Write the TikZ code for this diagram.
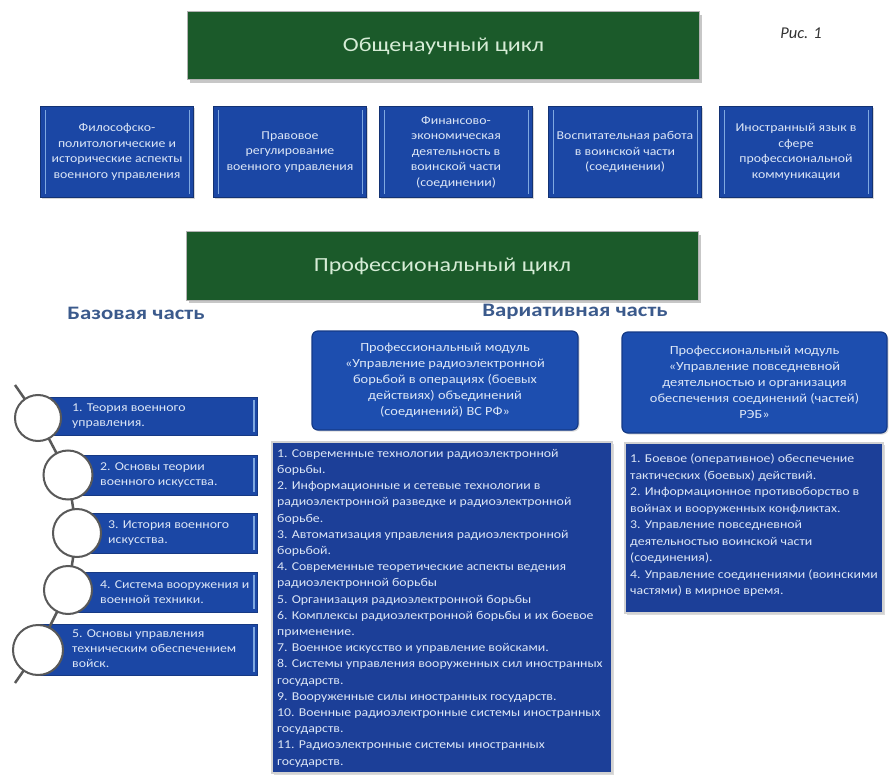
\documentclass[tikz,border=0pt]{standalone}
\usepackage{fontspec}
\setmainfont{Carlito}
\newfontfamily\wfont[FakeStretch=1.15]{Carlito}
\newfontfamily\hfont[FakeStretch=1.2]{Carlito}
\usetikzlibrary{shadows,calc}
\definecolor{gfill}{HTML}{1B5A2A}
\definecolor{gtext}{HTML}{D6ECD6}
\definecolor{bfill}{HTML}{1B47A5}
\definecolor{mfill}{HTML}{1D4EAF}
\definecolor{mline}{HTML}{143A86}
\definecolor{lfill}{HTML}{1C3F98}
\definecolor{btext}{HTML}{DCE6F6}
\definecolor{headc}{HTML}{3B5A8C}
\definecolor{stripe}{HTML}{7FA8E0}
\tikzset{
  greenbox/.style={draw=gray!60, line width=1pt, fill=gfill, text=gtext, minimum width=512pt, minimum height=68pt,
    drop shadow={shadow xshift=2pt, shadow yshift=-3pt, fill=gray!55, opacity=.8}, font=\hfont\fontsize{20}{24}\selectfont},
  topbox/.style={fill=bfill, draw=bfill!70!black, minimum width=153pt, minimum height=91pt, text=btext, align=center,
    drop shadow={shadow xshift=1.5pt, shadow yshift=-1.5pt, fill=gray!45, opacity=.7}, font=\wfont\fontsize{12}{15.5}\selectfont, inner sep=2pt},
  modbox/.style={fill=mfill, draw=mline, line width=1.2pt, rounded corners=6pt, text=btext, align=center,
    drop shadow={shadow xshift=1.5pt, shadow yshift=-1.5pt, fill=gray!40, opacity=.7}, font=\wfont\fontsize{12.5}{16}\selectfont},
  listbox/.style={fill=lfill, draw=gray!35, line width=1.5pt, text=btext, align=left, anchor=north west, inner sep=0pt,
    drop shadow={shadow xshift=1.5pt, shadow yshift=-1.5pt, fill=gray!40, opacity=.7}},
  listtext/.style={text=btext, align=left, anchor=north west, inner sep=0pt, font=\wfont\fontsize{12}{16.2}\selectfont},
  barbox/.style={fill=bfill, draw=bfill!80!black},
  bartext/.style={text=btext, align=left, anchor=west, inner sep=0pt, font=\wfont\fontsize{12}{15}\selectfont},
  ring/.style={circle, draw=gray!70!black, line width=2pt, fill=white, minimum size=#1},
  heading/.style={text=headc, font=\hfont\bfseries\fontsize{19}{22}\selectfont},
  chain/.style={draw=gray!70!black, line width=2.5pt}
}
\begin{document}
\begin{tikzpicture}[x=1pt,y=-1pt]
\useasboundingbox[fill=white] (0,0) rectangle (894,778);

% top green box
\node[greenbox] (gen) at (443.5,46) {Общенаучный цикл};
\node[text=gray!40!black, font=\fontsize{16.5}{19}\selectfont\itshape] (fig) at (801,33) {Рис. 1};

% top row
\node[topbox] (t1) at (117,152) {Философско-\\политологические и\\исторические аспекты\\военного управления};
\node[topbox] (t2) at (290,152) {Правовое\\регулирование\\военного управления};
\node[topbox] (t3) at (456,152) {Финансово-\\экономическая\\деятельность в\\воинской части\\(соединении)};
\node[topbox] (t4) at (625,152) {Воспитательная работа\\в воинской части\\(соединении)};
\node[topbox] (t5) at (796,152) {Иностранный язык в\\сфере\\профессиональной\\коммуникации};
\foreach \b in {t1,t2,t3,t4,t5}{
  \draw[stripe, line width=1.5pt] ($(\b.north west)+(5,4)$) -- ($(\b.south west)+(5,-4)$);
  \draw[stripe, line width=1.5pt] ($(\b.north east)+(-4,4)$) -- ($(\b.south east)+(-4,-4)$);
}

% second green box
\node[greenbox] (prof) at (442.5,266) {Профессиональный цикл};

% headings
\node[heading] (base) at (136,313) {Базовая часть};
\node[heading] (var) at (575,312) {Вариативная часть};

% modules
\node[modbox, minimum width=266pt, minimum height=99pt] (m1) at (445,380.5) {Профессиональный модуль\\«Управление радиоэлектронной\\борьбой в операциях (боевых\\действиях) объединений\\(соединений) ВС РФ»};
\node[modbox, minimum width=265pt, minimum height=101pt] (m2) at (754.5,382.5) {Профессиональный модуль\\«Управление повседневной\\деятельностью и организация\\обеспечения соединений (частей)\\РЭБ»};

% list boxes
\path[listbox] (272,442) rectangle (612,773);
\node[listtext] (l1) at (277,449) {1. Современные технологии радиоэлектронной\\борьбы.\\2. Информационные и сетевые технологии в\\радиоэлектронной разведке и радиоэлектронной\\борьбе.\\3. Автоматизация управления радиоэлектронной\\борьбой.\\4. Современные теоретические аспекты ведения\\радиоэлектронной борьбы\\5. Организация радиоэлектронной борьбы\\6. Комплексы радиоэлектронной борьбы и их боевое\\применение.\\7. Военное искусство и управление войсками.\\8. Системы управления вооруженных сил иностранных\\государств.\\9. Вооруженные силы иностранных государств.\\10. Военные радиоэлектронные системы иностранных\\государств.\\11. Радиоэлектронные системы иностранных\\государств.};
\path[listbox] (625,443) rectangle (883,613);
\node[listtext, font=\wfont\fontsize{12}{16.5}\selectfont] (l2) at (630,454) {1. Боевое (оперативное) обеспечение\\тактических (боевых) действий.\\2. Информационное противоборство в\\войнах и вооруженных конфликтах.\\3. Управление повседневной\\деятельностью воинской части\\(соединения).\\4. Управление соединениями (воинскими\\частями) в мирное время.};

% left chain
\path[barbox] (38,397) rectangle (257,435);
\path[barbox] (68,455) rectangle (257,495);
\path[barbox] (77,513) rectangle (257,553);
\path[barbox] (68,572) rectangle (257,612);
\path[barbox] (38,624) rectangle (257,675);
\foreach \yy/\hh in {397/435,455/495,513/553,572/612,624/675}{
  \draw[stripe, line width=1.5pt] (254,\yy+3) -- (254,\hh-3);
}
\coordinate (cs) at (15,385);
\coordinate (ce) at (15,683);
\coordinate (p1) at (38,418);
\coordinate (p2) at (68,475);
\coordinate (p3) at (77,533);
\coordinate (p4) at (68,590);
\coordinate (p5) at (38,650);
\draw[chain] (cs) -- (p1) -- (p2) -- (p3) -- (p4) -- (p5) -- (ce);
\node[ring=46pt] (c1) at (p1) {};
\node[ring=49pt] (c2) at (p2) {};
\node[ring=48pt] (c3) at (p3) {};
\node[ring=48pt] (c4) at (p4) {};
\node[ring=50pt] (c5) at (p5) {};
\node[bartext] (b1) at (72,416) {1. Теория военного\\управления.};
\node[bartext] (b2) at (100,475) {2. Основы теории\\военного искусства.};
\node[bartext] (b3) at (108,533) {3. История военного\\искусства.};
\node[bartext] (b4) at (100,592) {4. Система вооружения и\\военной техники.};
\node[bartext] (b5) at (72,649) {5. Основы управления\\техническим обеспечением\\войск.};
\end{tikzpicture}
\end{document}
